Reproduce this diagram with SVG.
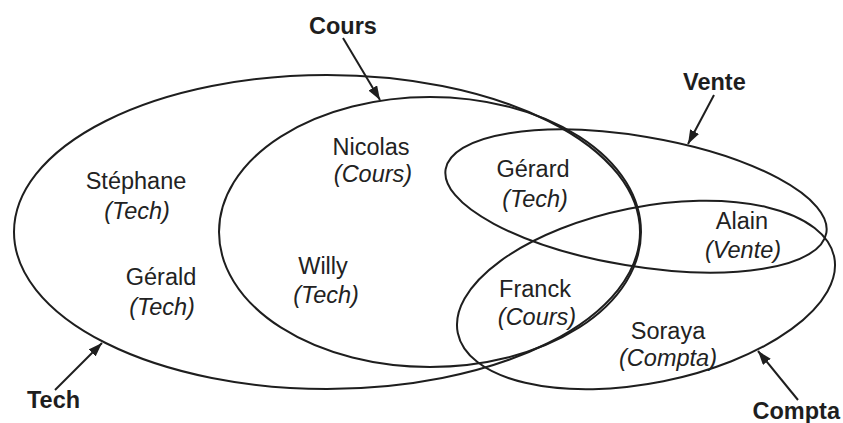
<svg xmlns="http://www.w3.org/2000/svg" width="843" height="423" viewBox="0 0 843 423">
<style>
.set{fill:none;stroke:#1e1e1e;stroke-width:2}
.arr{stroke:#1e1e1e;stroke-width:2;fill:none}
.lbl{font-family:"Liberation Sans",Arial,sans-serif;font-size:23.5px;font-weight:bold;fill:#1e1e1e}
.nm{font-family:"Liberation Sans",Arial,sans-serif;font-size:23.5px;fill:#222;text-anchor:middle}
.it{font-style:italic}
</style>
<defs>
<marker id="ah" markerUnits="userSpaceOnUse" viewBox="0 0 14 10" refX="14" refY="5" markerWidth="14" markerHeight="10" orient="auto">
<path d="M0,0 L14,5 L0,10 z" fill="#1e1e1e"/>
</marker>
</defs>
<rect width="843" height="423" fill="#fff"/>
<g id="tech">
<ellipse class="set" cx="327" cy="232" rx="313" ry="157"/>
<text class="lbl" x="27" y="408">Tech</text>
</g>
<g id="cours">
<ellipse class="set" cx="430" cy="232" rx="211" ry="135"/>
<text class="lbl" x="309" y="34">Cours</text>
</g>
<g id="vente">
<ellipse class="set" cx="636" cy="201" rx="193" ry="65" transform="rotate(9.5 636 201)"/>
<text class="lbl" x="683" y="90">Vente</text>
</g>
<g id="compta">
<ellipse class="set" cx="646" cy="295" rx="192" ry="88" transform="rotate(-11.4 646 295)"/>
<text class="lbl" x="840" y="419" text-anchor="end" font-size="23">Compta</text>
</g>
<g id="connectors">
<line class="arr" x1="343" y1="38" x2="380" y2="100" marker-end="url(#ah)"/>
<line class="arr" x1="714" y1="95" x2="688" y2="144" marker-end="url(#ah)"/>
<line class="arr" x1="55" y1="390" x2="102" y2="343" marker-end="url(#ah)"/>
<line class="arr" x1="798" y1="400" x2="758" y2="351" marker-end="url(#ah)"/>
</g>
<g id="stephane"><text class="nm" x="136" y="189">Stéphane</text><text class="nm it" x="137" y="219">(Tech)</text></g>
<g id="gerald"><text class="nm" x="161" y="285">Gérald</text><text class="nm it" x="162" y="315">(Tech)</text></g>
<g id="nicolas"><text class="nm" x="371" y="155">Nicolas</text><text class="nm it" x="373" y="182">(Cours)</text></g>
<g id="willy"><text class="nm" x="323" y="274">Willy</text><text class="nm it" x="326" y="303">(Tech)</text></g>
<g id="gerard"><text class="nm" x="533" y="177">Gérard</text><text class="nm it" x="535" y="207">(Tech)</text></g>
<g id="alain"><text class="nm" x="742" y="229">Alain</text><text class="nm it" x="743" y="258">(Vente)</text></g>
<g id="franck"><text class="nm" x="535" y="297">Franck</text><text class="nm it" x="537" y="325">(Cours)</text></g>
<g id="soraya"><text class="nm" x="668" y="339">Soraya</text><text class="nm it" x="668" y="366">(Compta)</text></g>
</svg>
